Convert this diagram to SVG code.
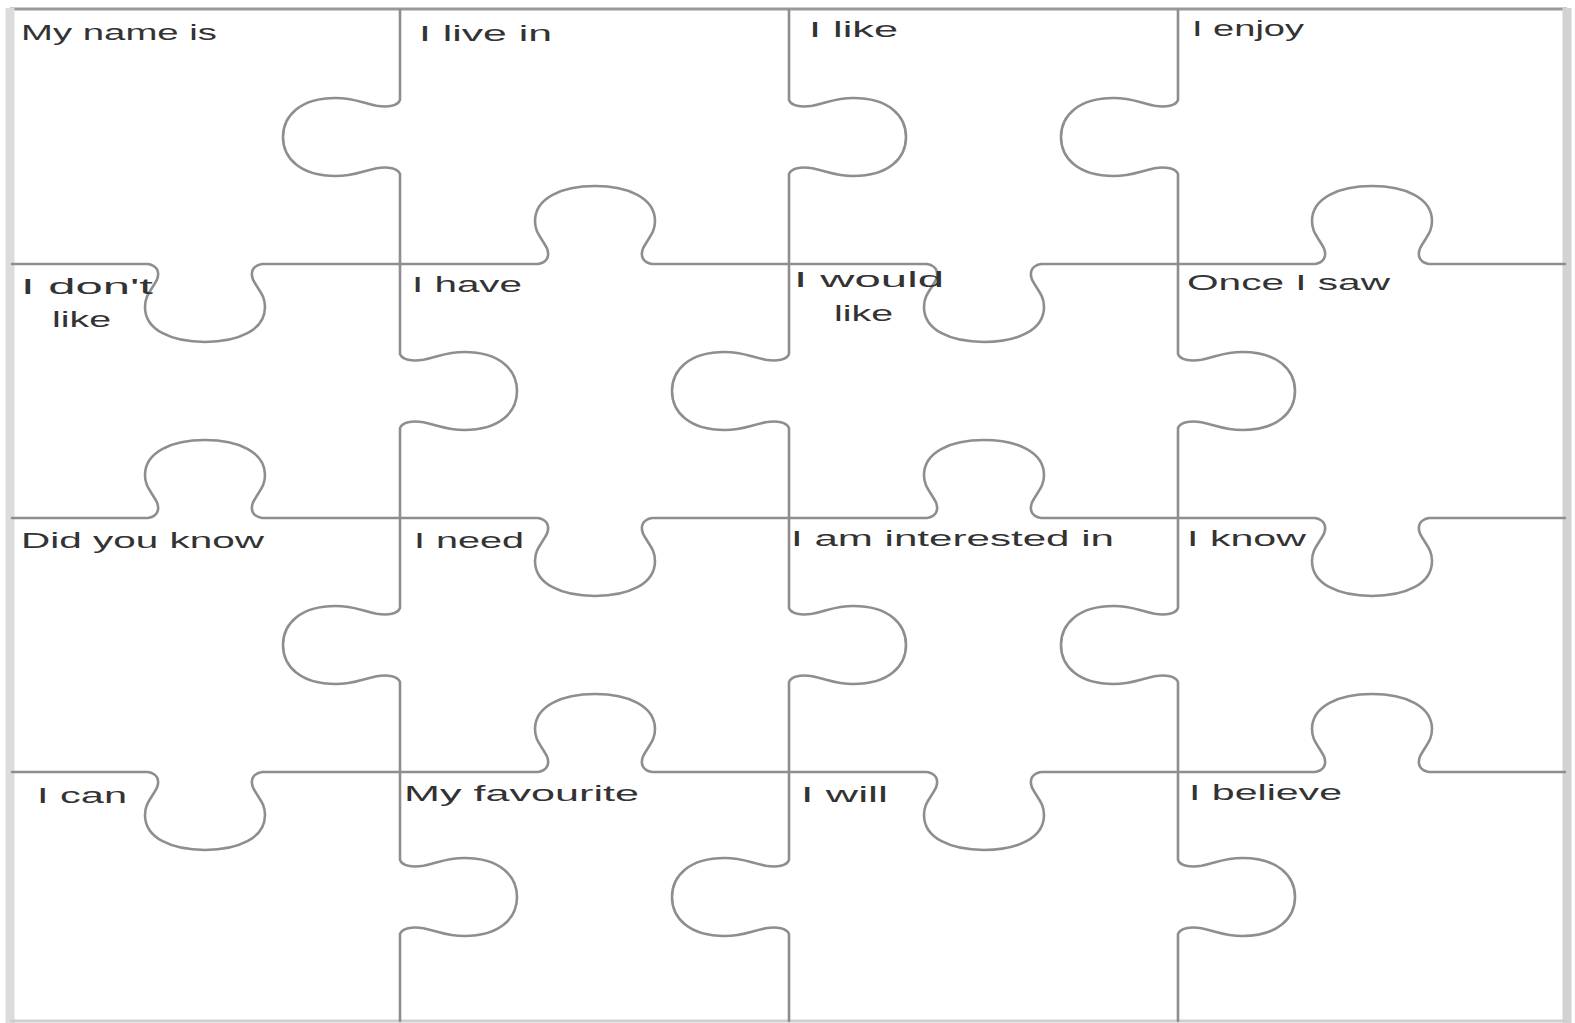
<svg xmlns="http://www.w3.org/2000/svg" width="1575" height="1023" viewBox="0 0 1575 1023">
<style>
.edge{fill:none;stroke:#8e8e8e;stroke-width:2.6;stroke-linejoin:round;stroke-linecap:round}
.lbl{font-family:"Liberation Sans",Arial,sans-serif;font-size:22px;fill:#333}
</style>
<rect x="0" y="0" width="1575" height="1023" fill="#ffffff"/>
<g id="border">
<line x1="10" y1="9" x2="1567" y2="9" stroke="#999" stroke-width="3"/>
<line x1="10" y1="8" x2="10" y2="1023" stroke="#dcdcdc" stroke-width="9"/>
<line x1="1567" y1="8" x2="1567" y2="1023" stroke="#d2d2d2" stroke-width="9"/>
<line x1="10" y1="1021" x2="1567" y2="1021" stroke="#cfcfcf" stroke-width="3"/>
</g>
<g id="edges">
<path class="edge" d="M400,10 V99.95 c-2.34,5.85 -11.7,7.8 -23.4,5.85 c-17.55,-3.9 -23.4,-7.8 -40.95,-7.8 c-35.1,0 -52.65,17.55 -52.65,39 c0,21.45 17.55,39 52.65,39 c17.55,0 23.4,-3.9 40.95,-7.8 c11.7,-1.95 21.06,0 23.4,5.85 V353.95 c2.34,5.85 11.7,7.8 23.4,5.85 c17.55,-3.9 23.4,-7.8 40.95,-7.8 c35.1,0 52.65,17.55 52.65,39 c0,21.45 -17.55,39 -52.65,39 c-17.55,0 -23.4,-3.9 -40.95,-7.8 c-11.7,-1.95 -21.06,0 -23.4,5.85 V607.95 c-2.34,5.85 -11.7,7.8 -23.4,5.85 c-17.55,-3.9 -23.4,-7.8 -40.95,-7.8 c-35.1,0 -52.65,17.55 -52.65,39 c0,21.45 17.55,39 52.65,39 c17.55,0 23.4,-3.9 40.95,-7.8 c11.7,-1.95 21.06,0 23.4,5.85 V859.95 c2.34,5.85 11.7,7.8 23.4,5.85 c17.55,-3.9 23.4,-7.8 40.95,-7.8 c35.1,0 52.65,17.55 52.65,39 c0,21.45 -17.55,39 -52.65,39 c-17.55,0 -23.4,-3.9 -40.95,-7.8 c-11.7,-1.95 -21.06,0 -23.4,5.85 V1021"/>
<path class="edge" d="M789,10 V99.95 c2.34,5.85 11.7,7.8 23.4,5.85 c17.55,-3.9 23.4,-7.8 40.95,-7.8 c35.1,0 52.65,17.55 52.65,39 c0,21.45 -17.55,39 -52.65,39 c-17.55,0 -23.4,-3.9 -40.95,-7.8 c-11.7,-1.95 -21.06,0 -23.4,5.85 V353.95 c-2.34,5.85 -11.7,7.8 -23.4,5.85 c-17.55,-3.9 -23.4,-7.8 -40.95,-7.8 c-35.1,0 -52.65,17.55 -52.65,39 c0,21.45 17.55,39 52.65,39 c17.55,0 23.4,-3.9 40.95,-7.8 c11.7,-1.95 21.06,0 23.4,5.85 V607.95 c2.34,5.85 11.7,7.8 23.4,5.85 c17.55,-3.9 23.4,-7.8 40.95,-7.8 c35.1,0 52.65,17.55 52.65,39 c0,21.45 -17.55,39 -52.65,39 c-17.55,0 -23.4,-3.9 -40.95,-7.8 c-11.7,-1.95 -21.06,0 -23.4,5.85 V859.95 c-2.34,5.85 -11.7,7.8 -23.4,5.85 c-17.55,-3.9 -23.4,-7.8 -40.95,-7.8 c-35.1,0 -52.65,17.55 -52.65,39 c0,21.45 17.55,39 52.65,39 c17.55,0 23.4,-3.9 40.95,-7.8 c11.7,-1.95 21.06,0 23.4,5.85 V1021"/>
<path class="edge" d="M1178,10 V99.95 c-2.34,5.85 -11.7,7.8 -23.4,5.85 c-17.55,-3.9 -23.4,-7.8 -40.95,-7.8 c-35.1,0 -52.65,17.55 -52.65,39 c0,21.45 17.55,39 52.65,39 c17.55,0 23.4,-3.9 40.95,-7.8 c11.7,-1.95 21.06,0 23.4,5.85 V353.95 c2.34,5.85 11.7,7.8 23.4,5.85 c17.55,-3.9 23.4,-7.8 40.95,-7.8 c35.1,0 52.65,17.55 52.65,39 c0,21.45 -17.55,39 -52.65,39 c-17.55,0 -23.4,-3.9 -40.95,-7.8 c-11.7,-1.95 -21.06,0 -23.4,5.85 V607.95 c-2.34,5.85 -11.7,7.8 -23.4,5.85 c-17.55,-3.9 -23.4,-7.8 -40.95,-7.8 c-35.1,0 -52.65,17.55 -52.65,39 c0,21.45 17.55,39 52.65,39 c17.55,0 23.4,-3.9 40.95,-7.8 c11.7,-1.95 21.06,0 23.4,5.85 V859.95 c2.34,5.85 11.7,7.8 23.4,5.85 c17.55,-3.9 23.4,-7.8 40.95,-7.8 c35.1,0 52.65,17.55 52.65,39 c0,21.45 -17.55,39 -52.65,39 c-17.55,0 -23.4,-3.9 -40.95,-7.8 c-11.7,-1.95 -21.06,0 -23.4,5.85 V1021"/>
<path class="edge" d="M12,264 H148 c9,1.56 12,7.8 9,15.6 c-6,11.7 -12,15.6 -12,27.3 c0,23.4 27,35.1 60,35.1 c33,0 60,-11.7 60,-35.1 c0,-11.7 -6,-15.6 -12,-27.3 c-3,-7.8 0,-14.04 9,-15.6 H538 c9,-1.56 12,-7.8 9,-15.6 c-6,-11.7 -12,-15.6 -12,-27.3 c0,-23.4 27,-35.1 60,-35.1 c33,0 60,11.7 60,35.1 c0,11.7 -6,15.6 -12,27.3 c-3,7.8 0,14.04 9,15.6 H927 c9,1.56 12,7.8 9,15.6 c-6,11.7 -12,15.6 -12,27.3 c0,23.4 27,35.1 60,35.1 c33,0 60,-11.7 60,-35.1 c0,-11.7 -6,-15.6 -12,-27.3 c-3,-7.8 0,-14.04 9,-15.6 H1315 c9,-1.56 12,-7.8 9,-15.6 c-6,-11.7 -12,-15.6 -12,-27.3 c0,-23.4 27,-35.1 60,-35.1 c33,0 60,11.7 60,35.1 c0,11.7 -6,15.6 -12,27.3 c-3,7.8 0,14.04 9,15.6 H1565"/>
<path class="edge" d="M12,518 H148 c9,-1.56 12,-7.8 9,-15.6 c-6,-11.7 -12,-15.6 -12,-27.3 c0,-23.4 27,-35.1 60,-35.1 c33,0 60,11.7 60,35.1 c0,11.7 -6,15.6 -12,27.3 c-3,7.8 0,14.04 9,15.6 H538 c9,1.56 12,7.8 9,15.6 c-6,11.7 -12,15.6 -12,27.3 c0,23.4 27,35.1 60,35.1 c33,0 60,-11.7 60,-35.1 c0,-11.7 -6,-15.6 -12,-27.3 c-3,-7.8 0,-14.04 9,-15.6 H927 c9,-1.56 12,-7.8 9,-15.6 c-6,-11.7 -12,-15.6 -12,-27.3 c0,-23.4 27,-35.1 60,-35.1 c33,0 60,11.7 60,35.1 c0,11.7 -6,15.6 -12,27.3 c-3,7.8 0,14.04 9,15.6 H1315 c9,1.56 12,7.8 9,15.6 c-6,11.7 -12,15.6 -12,27.3 c0,23.4 27,35.1 60,35.1 c33,0 60,-11.7 60,-35.1 c0,-11.7 -6,-15.6 -12,-27.3 c-3,-7.8 0,-14.04 9,-15.6 H1565"/>
<path class="edge" d="M12,772 H148 c9,1.56 12,7.8 9,15.6 c-6,11.7 -12,15.6 -12,27.3 c0,23.4 27,35.1 60,35.1 c33,0 60,-11.7 60,-35.1 c0,-11.7 -6,-15.6 -12,-27.3 c-3,-7.8 0,-14.04 9,-15.6 H538 c9,-1.56 12,-7.8 9,-15.6 c-6,-11.7 -12,-15.6 -12,-27.3 c0,-23.4 27,-35.1 60,-35.1 c33,0 60,11.7 60,35.1 c0,11.7 -6,15.6 -12,27.3 c-3,7.8 0,14.04 9,15.6 H927 c9,1.56 12,7.8 9,15.6 c-6,11.7 -12,15.6 -12,27.3 c0,23.4 27,35.1 60,35.1 c33,0 60,-11.7 60,-35.1 c0,-11.7 -6,-15.6 -12,-27.3 c-3,-7.8 0,-14.04 9,-15.6 H1315 c9,-1.56 12,-7.8 9,-15.6 c-6,-11.7 -12,-15.6 -12,-27.3 c0,-23.4 27,-35.1 60,-35.1 c33,0 60,11.7 60,35.1 c0,11.7 -6,15.6 -12,27.3 c-3,7.8 0,14.04 9,15.6 H1565"/>
</g>
<g id="piece-1"><text class="lbl" x="21" y="40" textLength="196" lengthAdjust="spacingAndGlyphs">My name is</text></g>
<g id="piece-2"><text class="lbl" x="419" y="41" textLength="133" lengthAdjust="spacingAndGlyphs">I live in</text></g>
<g id="piece-3"><text class="lbl" x="809" y="37" textLength="89" lengthAdjust="spacingAndGlyphs">I like</text></g>
<g id="piece-4"><text class="lbl" x="1192" y="36" textLength="112" lengthAdjust="spacingAndGlyphs">I enjoy</text></g>
<g id="piece-5"><text class="lbl" x="21" y="294" textLength="132" lengthAdjust="spacingAndGlyphs">I don't</text><text class="lbl" x="52" y="327" textLength="59" lengthAdjust="spacingAndGlyphs">like</text></g>
<g id="piece-6"><text class="lbl" x="412" y="292" textLength="110" lengthAdjust="spacingAndGlyphs">I have</text></g>
<g id="piece-7"><text class="lbl" x="794" y="287" textLength="150" lengthAdjust="spacingAndGlyphs">I would</text><text class="lbl" x="834" y="321" textLength="59" lengthAdjust="spacingAndGlyphs">like</text></g>
<g id="piece-8"><text class="lbl" x="1187" y="290" textLength="203" lengthAdjust="spacingAndGlyphs">Once I saw</text></g>
<g id="piece-9"><text class="lbl" x="21" y="548" textLength="243" lengthAdjust="spacingAndGlyphs">Did you know</text></g>
<g id="piece-10"><text class="lbl" x="414" y="548" textLength="110" lengthAdjust="spacingAndGlyphs">I need</text></g>
<g id="piece-11"><text class="lbl" x="791" y="546" textLength="323" lengthAdjust="spacingAndGlyphs">I am interested in</text></g>
<g id="piece-12"><text class="lbl" x="1187" y="546" textLength="119" lengthAdjust="spacingAndGlyphs">I know</text></g>
<g id="piece-13"><text class="lbl" x="37" y="803" textLength="90" lengthAdjust="spacingAndGlyphs">I can</text></g>
<g id="piece-14"><text class="lbl" x="404" y="801" textLength="235" lengthAdjust="spacingAndGlyphs">My favourite</text></g>
<g id="piece-15"><text class="lbl" x="801" y="802" textLength="87" lengthAdjust="spacingAndGlyphs">I will</text></g>
<g id="piece-16"><text class="lbl" x="1189" y="800" textLength="153" lengthAdjust="spacingAndGlyphs">I believe</text></g>
</svg>
